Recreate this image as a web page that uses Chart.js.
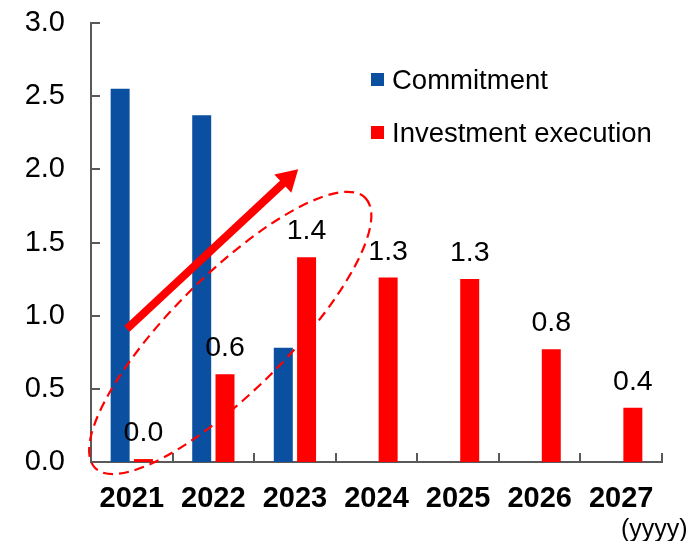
<!DOCTYPE html>
<html lang="en">
<head>
<meta charset="UTF-8">
<title>Commitment and Investment Execution</title>
<script src="https://cdn.jsdelivr.net/npm/chart.js"></script>
<style>
  body { margin: 0; padding: 0; background: #fff; }
  canvas { display: block; }
</style>
</head>
<body>
<canvas id="chart" width="693" height="541"></canvas>
<script>
const years = ['2021', '2022', '2023', '2024', '2025', '2026', '2027'];
const commitment = [2.55, 2.37, 0.78, null, null, null, null];
const investment = [0.02, 0.60, 1.40, 1.26, 1.25, 0.77, 0.37];
const yTicks = [0, 0.5, 1.0, 1.5, 2.0, 2.5, 3.0];
const seriesNames = ['Commitment', 'Investment execution'];

const BLUE = '#0b4fa0';
const RED = '#ff0000';
const AXIS = '#595959';
const FONT = "'Liberation Sans', Arial, sans-serif";

Chart.defaults.font.family = FONT;
Chart.defaults.color = '#000';

// inward tick marks, value labels, legend, trend arrow and the dashed ellipse
const decor = {
  id: 'decor',
  afterDatasetsDraw(chart) {
    const { ctx, chartArea: a, scales: { x, y } } = chart;
    ctx.save();

    ctx.strokeStyle = AXIS;
    ctx.lineWidth = 2;
    ctx.beginPath();
    yTicks.forEach(v => {
      const py = Math.round(y.getPixelForValue(v));
      ctx.moveTo(a.left, py);
      ctx.lineTo(a.left + 9, py);
    });
    for (let i = 0; i <= years.length; i++) {
      const px = Math.round(x.getPixelForValue(i - 0.5));
      ctx.moveTo(px, a.bottom);
      ctx.lineTo(px, a.bottom - 9);
    }
    ctx.stroke();

    // values above the investment bars
    ctx.fillStyle = '#000';
    ctx.font = '28.5px ' + FONT;
    ctx.textAlign = 'center';
    ctx.textBaseline = 'alphabetic';
    chart.getDatasetMeta(1).data.forEach((bar, i) => {
      ctx.fillText(investment[i].toFixed(1), bar.x, bar.y - 18);
    });

    // legend
    ctx.font = '27.5px ' + FONT;
    ctx.textAlign = 'left';
    chart.data.datasets.forEach((ds, i) => {
      const base = 89 + i * 53;
      ctx.fillStyle = ds.backgroundColor;
      ctx.fillRect(371, base - 16, 13, 13);
      ctx.fillStyle = '#000';
      ctx.fillText(ds.label, 392, base);
    });

    // unit note
    ctx.font = '25px ' + FONT;
    ctx.fillText('(yyyy)', 621, 537);

    // trend arrow
    const x0 = x.getPixelForValue(-0.06), y0 = y.getPixelForValue(0.91);
    const x1 = x.getPixelForValue(2.04), y1 = y.getPixelForValue(2.0);
    const ang = Math.atan2(y1 - y0, x1 - x0);
    const headLen = 21, headHalf = 12.5;
    const bx = x1 - headLen * Math.cos(ang), by = y1 - headLen * Math.sin(ang);
    ctx.strokeStyle = RED;
    ctx.fillStyle = RED;
    ctx.lineWidth = 8;
    ctx.lineCap = 'butt';
    ctx.beginPath();
    ctx.moveTo(x0, y0);
    ctx.lineTo(bx + 2 * Math.cos(ang), by + 2 * Math.sin(ang));
    ctx.stroke();
    ctx.beginPath();
    ctx.moveTo(x1, y1);
    ctx.lineTo(bx + headHalf * Math.sin(ang), by - headHalf * Math.cos(ang));
    ctx.lineTo(bx - headHalf * Math.sin(ang), by + headHalf * Math.cos(ang));
    ctx.closePath();
    ctx.fill();

    // dashed ellipse around the first three years
    const cx = x.getPixelForValue(1.207), cy = y.getPixelForValue(0.882);
    ctx.lineWidth = 2.2;
    ctx.setLineDash([10, 6]);
    ctx.beginPath();
    ctx.ellipse(cx, cy, 191, 58, -Math.PI / 4, 0, Math.PI * 2);
    ctx.stroke();

    ctx.restore();
  }
};

new Chart(document.getElementById('chart'), {
  type: 'bar',
  data: {
    labels: years,
    datasets: [
      { label: seriesNames[0], data: commitment, backgroundColor: BLUE },
      { label: seriesNames[1], data: investment, backgroundColor: RED }
    ]
  },
  options: {
    responsive: false,
    animation: false,
    layout: { padding: { top: 23, right: 31, left: 0, bottom: 0 } },
    datasets: {
      bar: { categoryPercentage: 0.571, barPercentage: 0.815 }
    },
    scales: {
      x: {
        grid: { display: false, drawTicks: false },
        border: { display: true, color: AXIS, width: 2 },
        ticks: {
          color: '#000',
          font: { size: 29, weight: 'bold' },
          padding: 20,
          maxRotation: 0,
          autoSkip: false
        },
        afterFit(s) {
          s.height = 79;
          s.paddingLeft = 0;
          s.paddingRight = 0;
        }
      },
      y: {
        min: 0,
        max: 3,
        grid: { display: false, drawTicks: false },
        border: { display: true, color: AXIS, width: 2 },
        ticks: {
          color: '#000',
          font: { size: 29 },
          padding: 26,
          callback: v => v.toFixed(1)
        },
        afterBuildTicks(s) { s.ticks = yTicks.map(v => ({ value: v })); },
        afterFit(s) {
          s.width = 91;
          s.paddingTop = 0;
          s.paddingBottom = 0;
        }
      }
    },
    plugins: {
      legend: { display: false },
      tooltip: { enabled: false }
    }
  },
  plugins: [decor]
});
</script>
</body>
</html>
